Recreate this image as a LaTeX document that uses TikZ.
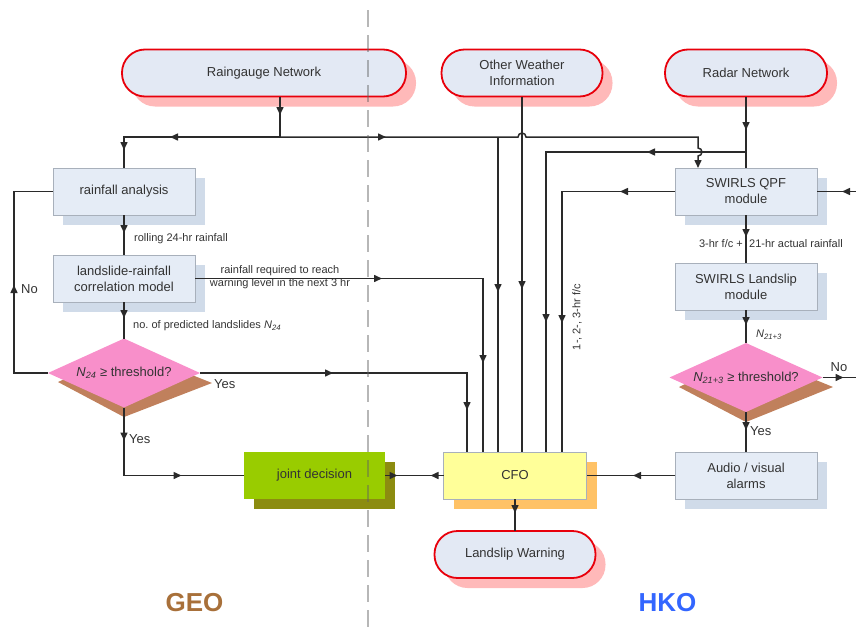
\documentclass[tikz,border=0pt]{standalone}
\usepackage{fontspec}
\setmainfont{Liberation Sans}
\usetikzlibrary{arrows.meta,decorations.markings,shapes.geometric,shadows}
\definecolor{linec}{HTML}{2A2A2A}
\definecolor{txt}{HTML}{333333}
\definecolor{pillred}{HTML}{E8000B}
\definecolor{pillfill}{HTML}{E3E9F4}
\definecolor{pillsh}{HTML}{FFB9B9}
\definecolor{boxfill}{HTML}{E5ECF6}
\definecolor{boxline}{HTML}{A8B0BB}
\definecolor{boxsh}{HTML}{D0DBE9}
\definecolor{diaP}{HTML}{F88FCA}
\definecolor{diaSh}{HTML}{C0805C}
\definecolor{jdG}{HTML}{99CC00}
\definecolor{jdSh}{HTML}{8C8C10}
\definecolor{cfoY}{HTML}{FFFF99}
\definecolor{cfoSh}{HTML}{FFC266}
\definecolor{geoC}{HTML}{A8703A}
\definecolor{hkoC}{HTML}{3366FF}
\definecolor{divC}{HTML}{606060}
\frenchspacing
\begin{document}
\begin{tikzpicture}[x=1pt,y=-1pt,
  ln/.style={draw=linec, color=linec, line width=1.5pt},
  ma/.style={postaction={decorate,decoration={markings,mark=at position #1 with {\arrow{Triangle[length=8pt,width=7pt]}}}}},
  mr/.style={postaction={decorate,decoration={markings,mark=at position #1 with {\arrowreversed{Triangle[length=8pt,width=7pt]}}}}},
  endtip/.style={-{Triangle[length=8pt,width=7pt]}},
  maintext/.style={font=\fontsize{13}{16}\selectfont, text=txt, align=center},
  pill/.style={maintext, draw=pillred, line width=1.8pt, fill=pillfill, rounded corners=23pt,
    minimum height=47pt, inner sep=0pt, outer sep=0pt,
    general shadow={fill=pillsh, shadow xshift=10pt, shadow yshift=-10pt}},
  rbox/.style={maintext, minimum width=142pt, minimum height=47pt, inner sep=0pt, outer sep=0pt},
  box/.style={rbox, draw=boxline, line width=0.8pt, fill=boxfill,
    general shadow={fill=boxsh, shadow xshift=10pt, shadow yshift=-10pt}},
  cfobox/.style={rbox, draw=boxline, line width=0.8pt, fill=cfoY,
    general shadow={fill=cfoSh, shadow xshift=10pt, shadow yshift=-10pt}},
  jdbox/.style={rbox, draw=none, fill=jdG,
    general shadow={fill=jdSh, shadow xshift=10pt, shadow yshift=-10pt}},
  dia/.style={maintext, diamond, aspect=2.2, minimum width=152pt, minimum height=69pt,
    fill=diaP, draw=none, inner sep=0pt, outer sep=0pt},
  lab/.style={font=\fontsize{11}{12.8}\selectfont, text=txt, inner sep=0pt, align=center},
  yn/.style={font=\fontsize{13}{15}\selectfont, text=txt, inner sep=0pt},
  big/.style={font=\fontsize{26}{30}\selectfont\bfseries}
]
\useasboundingbox (0,0) rectangle (856,629);

% terminals
\node[pill, minimum width=284pt] (rg) at (264,73) {Raingauge Network};
\node[pill, minimum width=161pt] (ow) at (522,73) {Other Weather\\Information};
\node[pill, minimum width=162pt] (rn) at (746,73) {Radar Network};
\node[pill, minimum width=161pt] (lw) at (515,554.5) {Landslip Warning};

% process boxes
\node[box] (ra) at (124,191.5) {rainfall analysis};
\node[box] (lr) at (124,278.5) {landslide-rainfall\\correlation model};
\node[box] (qpf) at (746,191.5) {SWIRLS QPF\\module};
\node[box] (slm) at (746,286.5) {SWIRLS Landslip\\module};
\node[box] (av) at (746,475.5) {Audio / visual\\alarms};
\node[cfobox, minimum width=143pt] (cfo) at (515,475.5) {CFO};
\node[jdbox, minimum width=141pt] (jd) at (314.5,475.5) {joint decision};

% decisions (with skewed shadows)
\fill[diaSh] (58,382) -- (124,417) -- (212,383) -- (130,350) -- cycle;
\node[dia] (d1) at (124,373) {\textit{N}\textsubscript{\textit{24}} ≥ threshold?};
\fill[diaSh] (679,387) -- (746,422) -- (833,387) -- (750,353) -- cycle;
\node[dia, minimum width=153pt] (d2) at (746,377.5) {\textit{N}\textsubscript{\textit{21+3}} ≥ threshold?};

% junction coordinates
\coordinate (j1) at (280,137);
\coordinate (j2) at (698,137);
\coordinate (j3) at (498,137);
\coordinate (hop1) at (518,137);
\coordinate (hop2) at (698,148);
\coordinate (j4) at (746,152);
\coordinate (k4) at (546,152);
\coordinate (k5) at (562,191.5);
\coordinate (k6) at (483,278.5);
\coordinate (k7) at (467,373);
\coordinate (k8) at (14,373);
\coordinate (k9) at (124,475.5);
\coordinate (inQ) at (856,191.5);
\coordinate (outR) at (856,377.5);

% raingauge distribution
\draw[ln, ma=18.5pt, ma=150.5pt, ma=209.5pt] (rg.south -| j1) -- (j1) -- (j1 -| ra.north) -- (ra.north);
\draw[ln, ma=106pt, endtip] (j1) -- (hop1) arc[start angle=180, end angle=0, radius=4pt]
   -- (j2) -- (hop2) arc[start angle=90, end angle=-90, radius=4pt] -- (j2 |- qpf.north);
\draw[ln, ma=155pt] (j3) -- (j3 |- cfo.north);
\draw[ln, ma=192.5pt] (ow.south) -- (ow.south |- cfo.north);

% radar
\draw[ln, ma=33.5pt] (rn.south) -- (qpf.north);
\draw[ln, ma=99pt, ma=370pt] (j4) -- (k4) -- (k4 |- cfo.north);
\draw[ln, ma=55pt, ma=244.5pt] (qpf.west) -- (k5) -- (k5 |- cfo.north);
\draw[ln, ma=14pt] (inQ) -- (qpf.east);
\draw[ln, ma=22pt] (qpf.south) -- (slm.north);
\draw[ln, ma=15pt] (slm.south) -- (d2.north);
\draw[ln, ma=21pt] (d2.east) -- (outR);
\draw[ln, ma=18pt] (d2.south) -- (av.north);
\draw[ln, ma=42pt] (av.west) -- (cfo.east);

% GEO chain
\draw[ln, ma=18pt] (ra.south) -- (lr.north);
\draw[ln, ma=16pt] (lr.south) -- (d1.north);
\draw[ln, ma=187pt, ma=372.5pt] (lr.east) -- (k6) -- (k6 |- cfo.north);
\draw[ln, ma=133pt, ma=304pt] (d1.east) -- (k7) -- (k7 |- cfo.north);
\draw[ln, ma=122pt] (d1.west) -- (k8) -- (k8 |- ra.west) -- (ra.west);
\draw[ln, ma=33pt, ma=125.5pt] (d1.south) -- (k9) -- (jd.west);

% CFO
\draw[ln, ma=13pt, mr=46pt] (cfo.west) -- (jd.east);
\draw[ln, ma=14pt] (cfo.south) -- (lw.north);

% labels
\node[lab, anchor=west] (l1) at (134,239) {rolling 24-hr rainfall};
\node[lab, anchor=west] (l2) at (133,326) {no. of predicted landslides \textit{N}\textsubscript{\textit{24}}};
\node[lab] (l3) at (280,277.5) {rainfall required to reach\\warning level in the next 3 hr};
\node[lab, anchor=east] (l4) at (743,244) {3-hr f/c +};
\node[lab, anchor=west] (l5) at (749,244) {21-hr actual rainfall};
\node[lab, anchor=west] (l6) at (756,335) {\textit{N}\textsubscript{\textit{21+3}}};
\node[lab, rotate=90] (l7) at (577,317) {1-, 2-, 3-hr f/c};
\node[yn, anchor=west] (no1) at (21,289) {No};
\node[yn, anchor=west] (yes1) at (214,384) {Yes};
\node[yn, anchor=west] (yes2) at (129,439) {Yes};
\node[yn] (no2) at (839,367) {No};
\node[yn, anchor=west] (yes3) at (750,431) {Yes};

\node[big, text=geoC] (geo) at (194.5,603) {GEO};
\node[big, text=hkoC] (hko) at (667.5,603) {HKO};

% divider
\draw[draw=divC, draw opacity=0.45, line width=2pt, dash pattern=on 17pt off 8pt] (368,10) -- (368,629);
\end{tikzpicture}
\end{document}
